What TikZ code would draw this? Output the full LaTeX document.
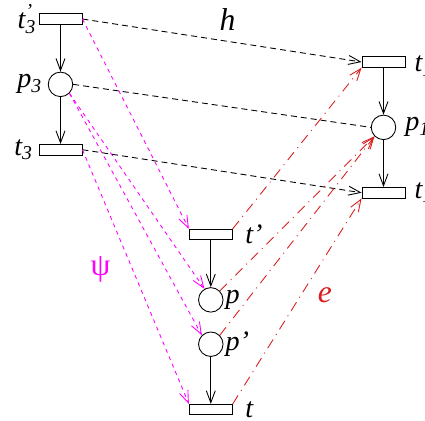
\documentclass[tikz,border=0pt]{standalone}
\usepackage{fontspec}
\setmainfont{Liberation Serif}
\usepackage{tikz}
\usetikzlibrary{arrows.meta,positioning}
\definecolor{ecol}{HTML}{D81E1E}
\definecolor{psicol}{HTML}{FF00FF}

\begin{document}
\begin{tikzpicture}[
  x=0.02cm,y=-0.02cm,
  node distance=0.94cm,
  trans/.style={draw,rectangle,minimum width=0.86cm,minimum height=0.21cm,inner sep=0pt,line width=0.5pt},
  place/.style={draw,circle,minimum size=0.49cm,inner sep=0pt,line width=0.5pt},
  lbl/.style={font=\fontsize{16}{18}\selectfont\itshape,inner sep=1pt},
  arc/.style={-{Straight Barb[length=2.4mm,width=1.8mm]},line width=0.5pt},
  hmap/.style={arc,dash pattern=on 1.2mm off 0.8mm},
  psimap/.style={arc,psicol,dash pattern=on 0.8mm off 0.8mm},
  emap/.style={arc,ecol,dash pattern=on 2mm off 1.1mm on 0.2mm off 1.1mm}
]
\useasboundingbox (0,0) rectangle (425,421);
% net N3 (left)
\node[trans,label={[lbl,label distance=2pt]left:t\rlap{\textsubscript{3}}\textsuperscript{’}}] (t3p) at (60.5,19) {};
\node[place,below=of t3p,label={[lbl,label distance=2pt]left:p\textsubscript{3}}] (p3) {};
\node[trans,below=of p3,label={[lbl,label distance=2pt]left:t\textsubscript{3}}] (t3) {};
% net N1 (right)
\node[trans,label={[lbl,label distance=4pt]right:t\rlap{\textsubscript{1}}\textsuperscript{’}}] (t1p) at (383.5,62) {};
\node[place,below=of t1p,label={[lbl,label distance=4pt]right:p\textsubscript{1}}] (p1) {};
\node[trans,below=of p1,label={[lbl,label distance=4pt]right:t\textsubscript{1}}] (t1) {};
% net N (middle)
\node[trans,label={[lbl,label distance=6pt]right:t’}] (tp) at (210.8,234.5) {};
\node[place,below=of tp,label={[lbl,label distance=0pt]right:p}] (p) {};
\node[place,below=0.38cm of p,label={[lbl,label distance=0pt]right:p’}] (pp) {};
\node[trans,below=of pp,label={[lbl,label distance=6pt]right:t}] (t) {};
% flow arcs
\draw[arc] (t3p) -- (p3);
\draw[arc] (p3) -- (t3);
\draw[arc] (t1p) -- (p1);
\draw[arc] (p1) -- (t1);
\draw[arc] (tp) -- (p);
\draw[arc] (pp) -- (t);
% h
\draw[hmap] (t3p.east) -- node[lbl,above=5pt,pos=0.52,font=\fontsize{18}{20}\selectfont\itshape] (hlbl) {h} (t1p.west);
\draw[hmap,-] (p3.east) -- (p1.west);
\draw[hmap] (t3.east) -- (t1.west);
% psi
\draw[psimap] (t3p.east) -- (tp.north west);
\draw[psimap] (p3.south east) -- (p.120);
\draw[psimap] (p3.south east) -- (pp.north west);
\draw[psimap] (t3.east) -- node[left=9pt,pos=0.47,text=psicol,font=\fontsize{18}{20}\selectfont] (psilbl) {ψ} (t.north west);
% e
\draw[emap] (tp.north east) -- (t1p.south west);
\draw[emap] (p.north east) -- (p1.south west);
\draw[emap] (pp.north east) -- (p1.south west);
\draw[emap] (t.north east) -- node[right=6pt,pos=0.53,text=ecol,font=\fontsize{18}{20}\selectfont\itshape] (elbl) {e} (t1.south west);
\end{tikzpicture}
\end{document}
